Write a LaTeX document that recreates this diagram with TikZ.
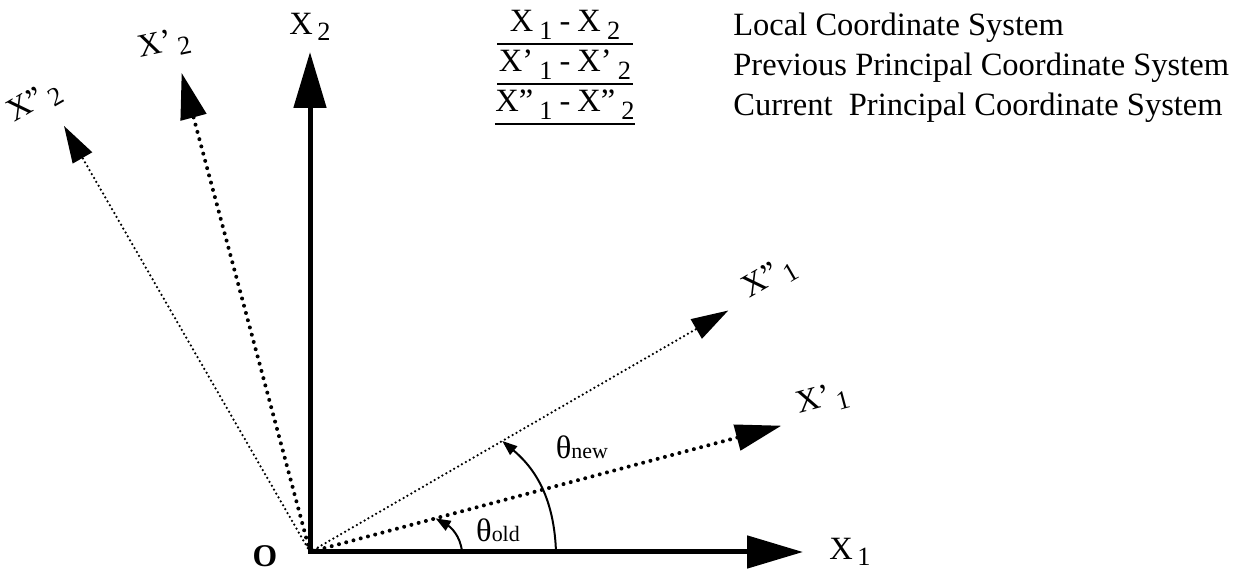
\documentclass[tikz,border=0pt]{standalone}
\usepackage{fontspec}
\setmainfont{Liberation Serif}
\usetikzlibrary{arrows.meta}
\tikzset{
	x=0.02cm, y=0.02cm, % one unit is one pixel of the sketch
	my axis/.style={line width=0.1cm, line cap=rect, -{Triangle[length=1.12cm,width=0.64cm]}},
	my old axis/.style={line width=0.08cm, line cap=round, dash pattern=on 0pt off 0.15cm, -{Triangle[length=0.92cm,width=0.52cm]}},% previous principal axes
	my new axis/.style={line width=0.05cm, line cap=round, dash pattern=on 0pt off 0.09cm, -{Triangle[length=0.74cm,width=0.44cm]}},% current principal axes
	my label/.style={font=\fontsize{18.5}{21}\selectfont, inner sep=0pt},
	my angle/.style={line width=0.04cm, -{Triangle[length=0.3cm,width=0.22cm]}},
	my row/.style={my label, minimum width=2.7cm, anchor=base},
	my rule/.style={line width=0.05cm}
}
\newcommand{\axname}[2]{X#1\kern2.5pt\raisebox{-0.45ex}{\fontsize{15}{17}\selectfont #2}}
\newcommand{\rowname}[2]{X#1\kern3.5pt\raisebox{-0.5ex}{\fontsize{15}{17}\selectfont #2}}

\begin{document}
\begin{tikzpicture}
            \useasboundingbox (0,0) rectangle (1236,574);
            \coordinate (o) at (310,22);
            \coordinate (x1) at ([shift={(0:493)}]o);
            \coordinate (x2) at ([shift={(90:500)}]o);
            \coordinate (xo1) at ([shift={(15:488)}]o);
            \coordinate (xo2) at ([shift={(105:496)}]o);
            \coordinate (xn1) at ([shift={(30:483)}]o);
            \coordinate (xn2) at ([shift={(120:492)}]o);
            \draw[my new axis] (o) -- (xn1);
            \draw[my new axis] (o) -- (xn2);
            \draw[my old axis] (o) -- (xo1);
            \draw[my old axis] (o) -- (xo2);
            \draw[my axis] (o) -- (x1);
            \draw[my axis] (o) -- (x2);
            % axis names
            \node[my label] (lx1) at ([shift={(0:540)}]o) {\axname{}{1}};
            \node[my label] (lx2) at ([shift={(90:525)}]o) {\axname{}{2}};
            \node[my label, rotate=15] (lxo1) at ([shift={(16.5:535)}]o) {\axname{'}{1}};
            \node[my label, rotate=12] (lxo2) at ([shift={(106:528)}]o) {\axname{'}{2}};
            \node[my label, rotate=30] (lxn1) at ([shift={(30.8:535)}]o) {\axname{"}{1}};
            \node[my label, rotate=30] (lxn2) at ([shift={(121.5:527)}]o) {\axname{"}{2}};
            \node[my label, font=\fontsize{18}{20}\selectfont\bfseries] (lo) at (265,18) {O};
            % angles
            \coordinate (a1) at ([shift={(0:152)}]o);
            \coordinate (a2) at ([shift={(15:130)}]o);
            \coordinate (b1) at ([shift={(0:246)}]o);
            \coordinate (b2) at ([shift={(30:222)}]o);
            \draw[my angle] (a1) to[out=95,in=-30] (a2);
            \draw[my angle] (b1) to[out=92,in=-40] (b2);
            \node[my label] (told) at (498,44) {θ{\fontsize{12.5}{14}\selectfont old}};
            \node[my label] (tnew) at (582,127) {θ{\fontsize{12.5}{14}\selectfont new}};
            % legend
            \node[my row] (row1) at (565,542) {\rowname{}{1}\kern4pt-\kern4pt\rowname{}{2}};
            \node[my row] (row2) at (565,502) {\rowname{'}{1}\kern4pt-\kern4pt\rowname{'}{2}};
            \node[my row] (row3) at (565,462) {\rowname{"}{1}\kern4pt-\kern4pt\rowname{"}{2}};
            \draw[my rule] ([yshift=-0.24cm]row1.base west) -- ([yshift=-0.24cm]row1.base east);
            \draw[my rule] ([yshift=-0.24cm]row2.base west) -- ([yshift=-0.24cm]row2.base east);
            \draw[my rule] ([yshift=-0.24cm]row3.base west) -- ([yshift=-0.24cm]row3.base east);
            \node[my label, anchor=base west] (txt1) at (733,538) {Local Coordinate System};
            \node[my label, anchor=base west] (txt2) at (733,498) {Previous Principal Coordinate System};
            \node[my label, anchor=base west] (txt3) at (733,458) {Current\ \ Principal Coordinate System};
\end{tikzpicture}
\end{document}
